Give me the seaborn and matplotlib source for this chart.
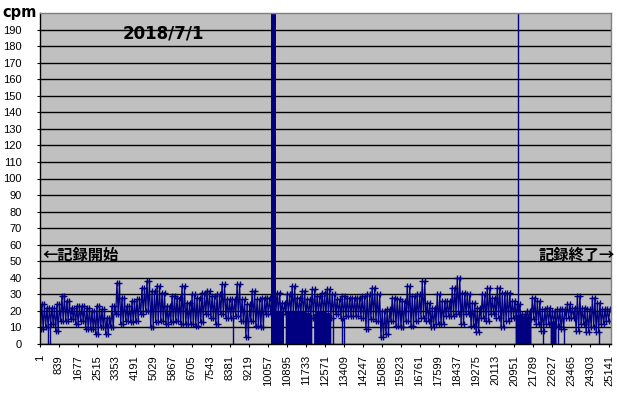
import numpy as np
import pandas as pd
import matplotlib
matplotlib.use("Agg")
import matplotlib.pyplot as plt
import seaborn as sns

# ---------------- data ----------------
date_label = "2018/7/1"
y_label = "cpm"
start_label = "←記録開始"
end_label = "記録終了→"

n_records = 25215                      # number of 1-min records on the category axis
block_len = 221                        # records summarised by one hi/lo pair below
swings_per_block = 2                   # the trace swings between lo and hi this often per block
tick_labels = list(range(1, 25142, 838))
y_ticks = list(range(0, 200, 10))

# upper / lower edge of the noisy cpm trace, one pair per block of records
block_hi = [24, 22, 22, 24, 29, 26, 22, 23, 23, 22, 20, 23, 21, 16, 23, 37, 28, 23, 26, 27,
            34, 38, 32, 35, 31, 23, 29, 28, 35, 25, 30, 28, 31, 32, 29, 30, 36, 27, 27, 36,
            27, 24, 32, 27, 28, 28, 28, 31, 25, 30, 35, 28, 32, 27, 33, 29, 31, 33, 30, 27,
            29, 28, 28, 28, 29, 30, 34, 30, 20, 21, 28, 27, 26, 35, 29, 30, 38, 25, 22, 30,
            26, 26, 34, 40, 31, 30, 25, 22, 30, 34, 28, 34, 31, 31, 26, 24, 18, 20, 28, 26,
            21, 22, 20, 21, 21, 24, 22, 29, 22, 21, 28, 25, 21, 21]
block_lo = [9, 10, 12, 8, 14, 14, 15, 12, 14, 9, 9, 6, 10, 6, 10, 18, 12, 14, 13, 14,
            18, 20, 10, 13, 14, 12, 13, 14, 12, 12, 12, 11, 13, 18, 16, 12, 18, 16, 16, 17,
            14, 4, 14, 11, 10, 18, 18, 18, 18, 18, 18, 18, 18, 17, 16, 18, 18, 17, 16, 18,
            16, 17, 17, 17, 16, 9, 15, 14, 4, 6, 14, 11, 10, 14, 11, 14, 16, 14, 10, 12,
            12, 17, 17, 18, 12, 18, 11, 7, 16, 14, 18, 16, 10, 14, 16, 16, 15, 15, 15, 12,
            8, 12, 12, 11, 9, 16, 16, 8, 12, 7, 10, 7, 12, 14]

spike_range = (10209, 10403)           # records that hit the 200 cpm ceiling
spike_value = 200
single_spike_idx = 21124               # isolated 200 cpm reading
zero_runs = [(10417, 10770), (10828, 12007), (12083, 12844), (20978, 21685), (22525, 22790)]
zero_points = [341, 443, 8539, 12922, 13320, 13422, 22202, 22865, 23143, 24677]

# ---------------- build the trace ----------------
xs, ys = [], []
step = block_len / (2 * swings_per_block)
for i, (lo, hi) in enumerate(zip(block_lo, block_hi)):
    base = 1 + i * block_len
    for k in range(swings_per_block):
        xs += [base + step * (2 * k + 0.5), base + step * (2 * k + 1.5)]
        ys += [lo, hi]
df = pd.DataFrame({"record": xs, "cpm": ys})


def lo_at(idx):
    return block_lo[min(int((idx - 1) // block_len), len(block_lo) - 1)]


# ---------------- figure ----------------
plt.rcParams["font.family"] = ["Liberation Sans", "DejaVu Sans"]
W, H = 617, 393
fig = plt.figure(figsize=(W / 100, H / 100), dpi=100)
fig.patch.set_facecolor("white")
ax = fig.add_axes([40 / W, (H - 344) / H, 571 / W, 331 / H])
ax.set_facecolor("#C0C0C0")

navy = "#000080"

ax.set_ylim(0, 200)
ax.set_xlim(0, n_records)
ax.set_yticks(y_ticks)
ax.yaxis.grid(True, color="black", linewidth=1.0)
ax.set_axisbelow(True)

sns.lineplot(data=df, x="record", y="cpm", ax=ax, color=navy, linewidth=0.9,
             marker="+", markersize=4, markeredgewidth=1.0, markeredgecolor=navy,
             markerfacecolor=navy, sort=False, estimator=None, legend=False)

# dense runs of zero readings
for s, e in zero_runs:
    xr = np.arange(s, e + 1, 5)
    ax.fill_between(xr, 0, [lo_at(v) + 2 for v in xr], color=navy, linewidth=0)
# isolated zero readings
ax.vlines(zero_points, 0, [lo_at(v) for v in zero_points], color=navy, linewidth=1.0)
# 200 cpm readings
ax.fill_between(np.arange(spike_range[0], spike_range[1] + 1), 0, spike_value,
                color=navy, linewidth=0)
ax.vlines([single_spike_idx], 0, spike_value, color=navy, linewidth=1.0)

ax.set_xticks(tick_labels)
ax.set_xticklabels([str(t) for t in tick_labels], rotation=90, fontsize=8)
ax.set_yticklabels([str(t) for t in y_ticks], fontsize=8)
ax.tick_params(axis="y", length=2, pad=11, colors="black")
ax.tick_params(axis="x", length=2, pad=6, colors="black")
ax.set_xlabel("")
ax.set_ylabel("")

for side in ["left", "bottom"]:
    ax.spines[side].set_color("black")
    ax.spines[side].set_linewidth(1.0)
for side in ["top", "right"]:
    ax.spines[side].set_color("#808080")
    ax.spines[side].set_linewidth(1.0)

fig.text(2 / W, 1 - 13 / H, y_label, ha="left", va="center", fontsize=10.5,
         fontweight="bold", family=["DejaVu Sans"])
fig.text(123 / W, 1 - 33 / H, date_label, ha="left", va="center", fontsize=12,
         fontweight="bold", family=["DejaVu Sans"])
fig.text(42 / W, 1 - 255 / H, start_label, ha="left", va="center", fontsize=11,
         fontweight="bold", family=["Noto Sans CJK JP", "DejaVu Sans"])
fig.text(615 / W, 1 - 255 / H, end_label, ha="right", va="center", fontsize=11,
         fontweight="bold", family=["Noto Sans CJK JP", "DejaVu Sans"])

fig.savefig("out.png", dpi=100)
